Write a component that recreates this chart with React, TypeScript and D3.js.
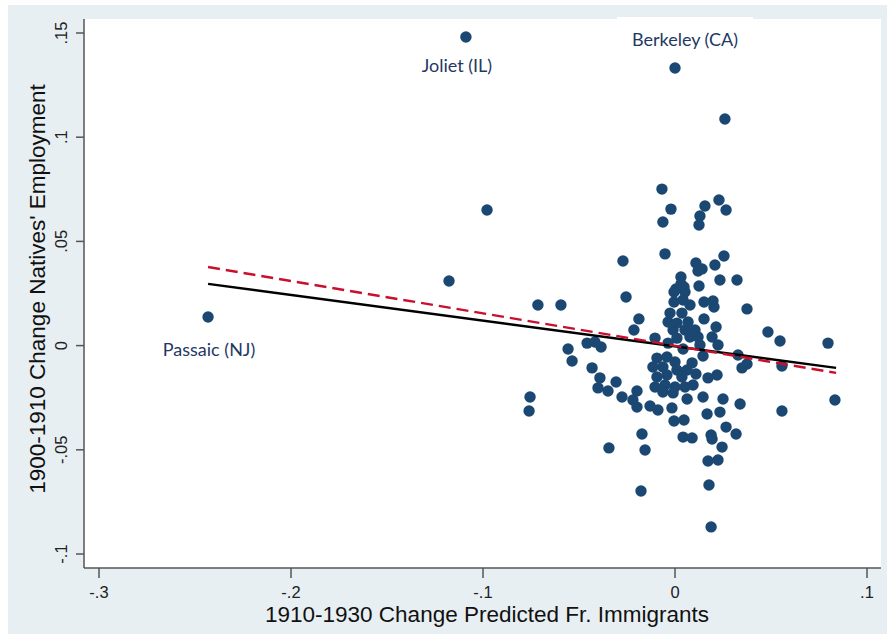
import React from 'react';
import * as d3 from 'd3';

// change in predicted French immigrants (x) vs change in natives' employment (y)
const xVals = [
  -0.2432, -0.1089, 0.0, 0.026, -0.0979, -0.1177, -0.0714, -0.0594, -0.0755, -0.076,
  -0.0068, -0.0021, -0.0063, 0.0156, 0.0229, 0.0266, 0.013, 0.0125, -0.0271, -0.0052,
  0.0255, 0.0109, 0.0208, 0.012, 0.0141, 0.0234, 0.0323, 0.0031, 0.0031, 0.0047,
  0.0005, 0.0125, -0.0255, 0.0198, 0.0151, -0.0005, 0.0052, -0.0005, 0.0042, 0.0078,
  0.0203, -0.0026, 0.0036, -0.0188, 0.0151, -0.0036, 0.001, 0.0068, 0.0214, -0.0214,
  -0.001, 0.0052, 0.0104, -0.0104, 0.001, 0.0078, 0.012, 0.0193, -0.0458, -0.0417,
  -0.0385, -0.0036, 0.013, 0.0224, 0.0042, 0.0146, -0.0557, -0.0536, -0.0094, -0.0042,
  0.0, 0.0328, 0.0349, 0.0375, -0.0432, -0.0115, -0.0063, 0.001, 0.0089, 0.0109,
  0.0063, -0.0094, -0.0042, 0.0036, -0.0391, -0.0307, 0.0172, 0.0219, -0.0104, -0.0052,
  0.0, 0.0052, 0.0094, -0.0401, -0.0349, -0.0198, -0.0063, -0.001, -0.0276, -0.0219,
  0.0063, 0.0146, 0.025, -0.0198, -0.013, -0.0089, -0.0016, 0.0339, 0.0167, 0.0234,
  -0.0005, 0.0047, 0.0266, 0.0318, -0.0172, -0.0344, -0.0156, 0.0042, 0.0089, 0.0188,
  0.0193, 0.0245, 0.0172, 0.0224, -0.0177, 0.0177, 0.0188, 0.0375, 0.0484, 0.0547,
  0.0797, 0.0557, 0.0557, 0.0833,
];
const yVals = [
  0.0137, 0.1481, 0.1332, 0.1087, 0.0651, 0.031, 0.0195, 0.0195, -0.0247, -0.0314,
  0.0751, 0.0655, 0.0593, 0.067, 0.0699, 0.0651, 0.0622, 0.0579, 0.0406, 0.044,
  0.043, 0.0396, 0.0387, 0.0358, 0.0368, 0.0315, 0.0315, 0.0329, 0.0296, 0.0281,
  0.0272, 0.0286, 0.0233, 0.0214, 0.0209, 0.0257, 0.0257, 0.0209, 0.0219, 0.0195,
  0.0185, 0.0156, 0.0156, 0.0128, 0.0128, 0.0113, 0.0108, 0.0113, 0.0089, 0.0075,
  0.0075, 0.0075, 0.0075, 0.0036, 0.0036, 0.0041, 0.0041, 0.0041, 0.0012, 0.0017,
  -0.0007, 0.0012, 0.0003, 0.0003, -0.0016, -0.005, -0.0016, -0.0074, -0.006, -0.0055,
  -0.0079, -0.0045, -0.0107, -0.0088, -0.0107, -0.0103, -0.0103, -0.0117, -0.0083, -0.0136,
  -0.0117, -0.0151, -0.0141, -0.0151, -0.0155, -0.0175, -0.0155, -0.0141, -0.0199, -0.0189,
  -0.0199, -0.0199, -0.0189, -0.0203, -0.0218, -0.0218, -0.0223, -0.0227, -0.0247, -0.0261,
  -0.0256, -0.0247, -0.0256, -0.0295, -0.029, -0.0309, -0.0299, -0.028, -0.0328, -0.0319,
  -0.0362, -0.0357, -0.0391, -0.0424, -0.0424, -0.0491, -0.0501, -0.0439, -0.0443, -0.0429,
  -0.0448, -0.0487, -0.0554, -0.0549, -0.0698, -0.0669, -0.087, 0.0176, 0.0065, 0.0022,
  0.0012, -0.0098, -0.0314, -0.0261,
];

// labelled cities: index into the arrays above
const cityNames = ['Passaic (NJ)', 'Joliet (IL)', 'Berkeley (CA)'];
const cityIdx = [0, 1, 2];

// fitted lines, endpoints
const fitX = [-0.2432, 0.0839];
const fitSolid = [0.0296, -0.0107];
const fitDashed = [0.0377, -0.0131];

const xTicks = [-0.3, -0.2, -0.1, 0, 0.1];
const xTickLabels = ['-.3', '-.2', '-.1', '0', '.1'];
const yTicks = [-0.1, -0.05, 0, 0.05, 0.1, 0.15];
const yTickLabels = ['-.1', '-.05', '0', '.05', '.1', '.15'];

const W = 887;
const H = 635;
const plot = { left: 84, right: 881, top: 19, bottom: 568 };

const App = () => {
  const x = d3.scaleLinear().domain([-0.3, 0.1]).range([99, 867]);
  const y = d3.scaleLinear().domain([-0.1, 0.15]).range([554, 33]);

  const line = d3
    .line<number>()
    .x((_, i) => x(fitX[i]))
    .y((d) => y(d));

  const labelFont = 'Lato, "Open Sans", sans-serif';
  const axisFont = '"Liberation Sans", Arial, sans-serif';
  const textColor = '#1f3864';

  return (
    <svg
      width={W}
      height={H}
      style={{ position: 'absolute', left: 0, top: 0 }}
    >
      <rect x={0} y={0} width={W} height={H} fill="#fff" />
      <rect x={8} y={5} width={W - 8} height={629} fill="#e8eff2" />
      <rect
        x={plot.left}
        y={plot.top}
        width={plot.right - plot.left}
        height={plot.bottom - plot.top}
        fill="#fff"
      />

      {/* Berkeley label box */}
      <rect x={617} y={17} width={136} height={42} fill="#fff" />

      {/* points */}
      <g>
        {xVals.map((d, i) => (
          <circle key={i} cx={x(d)} cy={y(yVals[i])} r={5.7} fill="#1a4872" />
        ))}
      </g>

      {/* fitted lines */}
      <path d={line(fitSolid) || ''} fill="none" stroke="#000" strokeWidth={2.4} />
      <path
        d={line(fitDashed) || ''}
        fill="none"
        stroke="#c8102e"
        strokeWidth={2.4}
        strokeDasharray="12,6"
      />

      {/* city labels */}
      <g fontFamily={labelFont} fontSize={18} fill={textColor}>
        <text x={x(xVals[cityIdx[0]]) + 1} y={356} textAnchor="middle">
          {cityNames[0]}
        </text>
        <text x={x(xVals[cityIdx[1]]) - 9} y={72} textAnchor="middle">
          {cityNames[1]}
        </text>
        <text x={685} y={46} textAnchor="middle">
          {cityNames[2]}
        </text>
      </g>

      {/* axes */}
      <line x1={plot.left} x2={plot.left} y1={plot.top} y2={plot.bottom} stroke="#555" strokeWidth={1.5} />
      <line x1={plot.left} x2={plot.right} y1={plot.bottom} y2={plot.bottom} stroke="#555" strokeWidth={1.5} />

      <g fontFamily={axisFont} fontSize={16.5} fill="#222">
        {xTicks.map((t, i) => (
          <g key={t}>
            <line x1={x(t)} x2={x(t)} y1={plot.bottom} y2={plot.bottom + 10} stroke="#555" strokeWidth={1.5} />
            <text x={x(t)} y={598} textAnchor="middle">
              {xTickLabels[i]}
            </text>
          </g>
        ))}
        {yTicks.map((t, i) => (
          <g key={t}>
            <line x1={plot.left - 8} x2={plot.left} y1={y(t)} y2={y(t)} stroke="#555" strokeWidth={1.5} />
            <text
              transform={`translate(67,${y(t)}) rotate(-90)`}
              textAnchor="middle"
            >
              {yTickLabels[i]}
            </text>
          </g>
        ))}
      </g>

      <g fontFamily={axisFont} fontSize={22.5} fill="#111">
        <text x={487} y={622} textAnchor="middle">
          1910-1930 Change Predicted Fr. Immigrants
        </text>
        <text transform="translate(45,289) rotate(-90)" textAnchor="middle">
          1900-1910 Change Natives' Employment
        </text>
      </g>
    </svg>
  );
};

export default App;
